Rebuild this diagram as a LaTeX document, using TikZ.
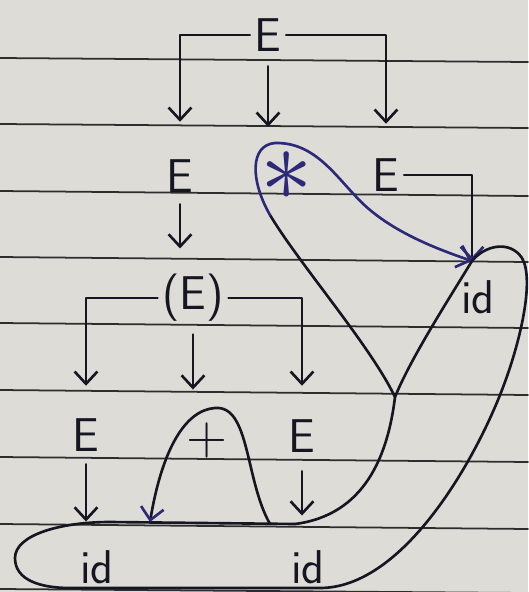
\documentclass[tikz,border=0pt]{standalone}
\usetikzlibrary{arrows.meta}
\definecolor{paper}{RGB}{222,220,214}
\definecolor{ruling}{RGB}{45,45,45}
\definecolor{ink}{RGB}{22,22,34}
\definecolor{blueink}{RGB}{44,42,120}
\begin{document}
\begin{tikzpicture}[x=0.02cm, y=-0.02cm, line width=1.5pt, color=ink,
		line cap=round, line join=round,
		sym/.style={font=\sffamily\fontsize{27}{30}\selectfont, inner sep=2pt},
		arr/.style={-{Straight Barb[length=7pt,width=13pt]}},
		barr/.style={-{Straight Barb[length=7pt,width=13pt,color=blueink]}}]
	\fill[paper] (0,0) rectangle (528,592);
	\useasboundingbox (0,0) rectangle (528,592);
	\foreach \a/\b in {58/62,124/128,191/196,257/262,323/328,390/395,457/462,524/529,589/593}
		\draw[ruling, line width=1pt] (0,\a) -- (528,\b);
	
	\node[sym] (t0) at (268,35) {E};
	\node[sym] (c1) at (180,176) {E};
	\node[sym, text=blueink] (c2) at (287,176) {\scalebox{2.4}{$\ast$}};
	\node[sym] (c3) at (386,175) {E};
	\node[sym] (p1) at (193,298) {(E)};
	\node[sym] (g1) at (86,435) {E};
	\node[sym, font=\sffamily\fontsize{32}{34}\selectfont] (g2) at (207,440) {+};
	\node[sym] (g3) at (302,436) {E};
	\node[sym] (d1) at (97,567) {id};
	\node[sym] (d2) at (308,567) {id};
	\node[sym] (d3) at (478,297) {id};
	
	\coordinate (j1) at (472,261);
	\coordinate (j2) at (395,397);
	\coordinate (j3) at (295,524);
	\coordinate (k1) at (270,524);
	\coordinate (k2) at (150,522);
	\coordinate (m1) at (270,215);
	
	\draw[arr, shorten >=0.66cm] (t0.west) -| (c1.north);
	\draw[arr, shorten <=0.2cm, shorten >=0.4cm] (t0.south) -- (t0.south |- c2.north);
	\draw[arr, shorten >=0.6cm] (t0.east) -| (c3.north);
	\draw[arr, shorten <=0.14cm, shorten >=0.42cm] (c1.south) -- (c1.south |- p1.north);
	\draw[arr, shorten >=0.56cm] (p1.west) -| (g1.north);
	\draw[arr, shorten <=0.16cm, shorten >=0.56cm] (p1.south) -- (p1.south |- g2.north);
	\draw[arr, shorten >=0.58cm] (p1.east) -| (g3.north);
	\draw[arr, shorten <=0.16cm, shorten >=0.48cm] (g1.south) -- (g1.south |- d1.north);
	\draw[arr, shorten <=0.28cm, shorten >=0.6cm] (g3.south) -- (g3.south |- d2.north);
	\draw[barr] (c3.east) -| (j1);
	
	\draw (j2) .. controls (370,345) and (300,265) .. (m1);
	\draw[barr, blueink] (m1) .. controls (250,180) and (250,145) .. (275,143) .. controls (320,142) and (340,185) .. (370,210) .. controls (400,235) and (440,250) .. (j1);
	\draw (j1) .. controls (445,305) and (410,360) .. (j2);
	\draw (j2) .. controls (388,455) and (365,515) .. (j3);
	\draw (j3) -- (110,522) .. controls (60,522) and (15,535) .. (15,558) .. controls (15,580) and (40,588) .. (70,588) -- (320,588) .. controls (400,588) and (470,470) .. (500,395) .. controls (520,345) and (535,280) .. (522,258) .. controls (510,240) and (485,245) .. (j1);
	\draw[barr] (k1) .. controls (245,480) and (250,405) .. (215,408) .. controls (185,410) and (162,450) .. (k2);
	
\end{tikzpicture}
\end{document}
